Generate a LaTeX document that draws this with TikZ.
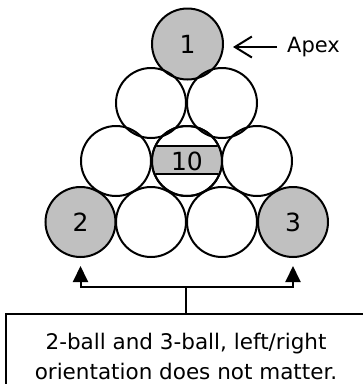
\documentclass[tikz,border=0pt]{standalone}
\usepackage{fontspec}
\setmainfont{DejaVu Sans}
\usetikzlibrary{arrows.meta}
\definecolor{ballgray}{RGB}{192,192,192}
\tikzset{
  ball/.style={circle, draw=black, line width=2pt, minimum size=70pt, inner sep=0pt, font=\fontsize{25}{25}\selectfont},
  grayball/.style={ball, fill=ballgray},
  conn/.style={line width=2pt},
  notebox/.style={draw=black, line width=2pt, minimum width=360pt, minimum height=84pt, anchor=north, align=center, font=\fontsize{21.5}{30}\selectfont},
}
\begin{document}
\begin{tikzpicture}[x=1pt,y=-1pt]
\useasboundingbox (0,0) rectangle (363,384);
% row 1
\node[grayball, minimum size=71pt] (b1) at (187.5,44) {1};
% row 2
\node[ball] (b21) at (151,103) {};
\node[ball] (b22) at (222,103) {};
% row 3
\node[ball] (b31) at (116,161) {};
\node[ball] (b10) at (187,161) {};
\node[ball] (b33) at (257,161) {};
% stripe of the 10-ball
\begin{scope}
  \clip (b10.center) circle (34pt);
  \fill[ballgray] (140,146) rectangle (235,174);
  \draw[conn] (140,146) -- (235,146);
  \draw[conn] (140,174) -- (235,174);
\end{scope}
\node[font=\fontsize{25}{25}\selectfont] at (b10.center) {10};
\node[ball] at (b10.center) {};
% row 4
\node[grayball] (b2) at (80.5,222) {2};
\node[ball] (b42) at (151,222) {};
\node[ball] (b43) at (222,222) {};
\node[grayball] (b3) at (293,222) {3};
% apex label
\node[anchor=west, inner sep=0pt, font=\fontsize{21}{21}\selectfont] (apex) at (287,47) {Apex};
\draw[conn, -{Straight Barb[length=17pt,width=21pt,line width=2pt]}, shorten <=10pt, shorten >=9pt] (apex.west) -- (b1.east |- apex.west);
% note box
\node[notebox] (note) at (186,313) {2-ball and 3-ball, left/right\\orientation does not matter.};
\coordinate (j) at (186,287);
\draw[conn] (note.north) -- (j);
\draw[conn, -{Triangle[length=16pt,width=15pt]}, shorten >=8pt] (j) -| (b2.south);
\draw[conn, -{Triangle[length=16pt,width=15pt]}, shorten >=8pt] (j) -| (b3.south);
\end{tikzpicture}
\end{document}
